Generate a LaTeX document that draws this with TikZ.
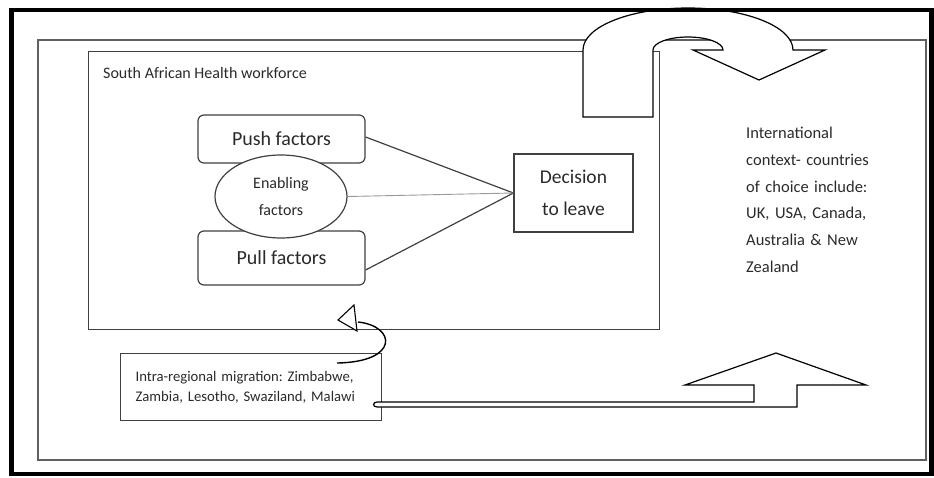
\documentclass[tikz,border=0pt]{standalone}
\usepackage{fontspec}
\setmainfont{Carlito}
\usetikzlibrary{shapes.geometric}
\definecolor{txt}{HTML}{2A2A2A}
\definecolor{edge}{HTML}{404040}
\definecolor{frm}{HTML}{606060}
\frenchspacing
\begin{document}
\begin{tikzpicture}[x=1pt,y=-1pt,
  every node/.style={text=txt},
  frameline/.style={draw=frm, line width=1.3pt},
  boxline/.style={draw=edge, line width=1.2pt},
  rbox/.style={boxline, rounded corners=6pt, fill=white, minimum width=167pt, inner sep=0pt, font=\fontsize{20}{24}\selectfont},
  blockarrow/.style={draw=black, line width=1.2pt, fill=white, line join=miter},
  link/.style={draw=edge, line width=1.2pt},
  faint/.style={draw=gray!80, line width=0.9pt}
]
\useasboundingbox (0,0) rectangle (934,477);

% second frame and the workforce box
\draw[frameline] (38,40) rectangle (926,460);
\node[boxline, anchor=north west, minimum width=571pt, minimum height=278pt, inner sep=0pt] (sahw) at (88,51) {};
\node[anchor=west, inner sep=0pt, font=\fontsize{16}{19}\selectfont] (title) at (103,73) {South African Health workforce};

% factors
\node[rbox, minimum height=48pt] (push) at (281.5,139) {Push factors};
\node[rbox, minimum height=54pt] (pull) at (281.5,258) {Pull factors};
\node[ellipse, boxline, fill=white, minimum width=132pt, minimum height=83pt, inner sep=0pt, align=center, font=\fontsize{16}{27}\selectfont] (enab) at (281,196.5) {Enabling\\factors};
\node[boxline, minimum width=119pt, minimum height=78pt, inner sep=0pt, align=center, font=\fontsize{19.5}{32}\selectfont] (dec) at (573.5,193) {Decision\\to leave};

\draw[link] ([yshift=2pt]push.east) -- (dec.west);
\draw[link] ([yshift=-12pt]pull.east) -- (dec.west);
\draw[faint] (enab.east) -- (dec.west);

% intra-regional box
\node[boxline, anchor=north west, text width=231pt, inner xsep=15pt, inner ysep=0pt, minimum height=67pt, align=left, font=\fontsize{14.7}{19.5}\selectfont] (intra) at (120,353) {Intra-regional migration: Zimbabwe,\\ Zambia, Lesotho, Swaziland, Malawi};

% international text
\node[anchor=north west, inner sep=0pt, text width=185pt, align=left, font=\fontsize{16.5}{26.7}\selectfont] (intl) at (746,127) {International\\ context- countries\\ of choice include:\\ UK, USA, Canada,\\ Australia \& New\\ Zealand};

% curved arrow from intra box back into the workforce box
\draw[line width=1.4pt, draw=black] (337,363) .. controls (400,362) and (396,326) .. (358,322);
\draw[line width=1.1pt, draw=black, fill=white] (354,305) -- (338,320) -- (357,331) -- cycle;

% pipe and up arrow
\draw[blockarrow] (377,402) -- (754,402) -- (754,385) -- (685,385) -- (776,353) -- (866,385) -- (797,385) -- (797,407) -- (377,407) .. controls (372.5,407) and (372.5,402) .. (377,402) -- cycle;

% U-turn arrow at the top
\draw[blockarrow] (583,117) -- (583,50)
  .. controls (583,26.8) and (630,8) .. (688,8)
  .. controls (746,8) and (793,26.8) .. (793,50)
  -- (825,50) -- (759,80) -- (693,50) -- (723,50)
  .. controls (723,42.8) and (707.3,37) .. (688,37)
  .. controls (668.7,37) and (653,42.8) .. (653,50)
  -- (653,117) -- cycle;

% outer thick frame
\draw[line width=4.5pt, draw=black] (11.5,10) rectangle (931.5,474);
\end{tikzpicture}
\end{document}
